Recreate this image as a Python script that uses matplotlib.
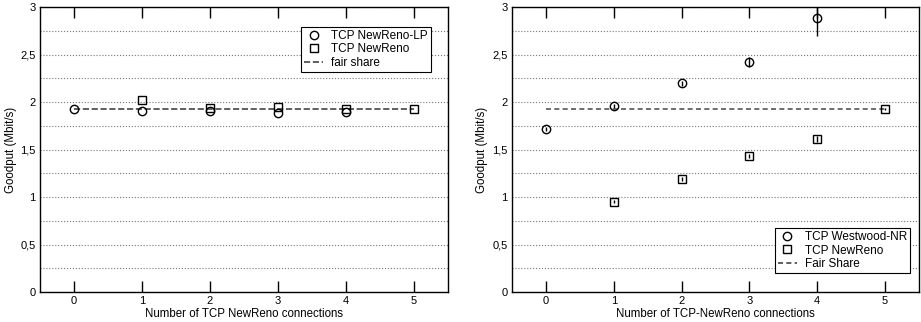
import matplotlib
matplotlib.use('Agg')
import matplotlib.pyplot as plt
from matplotlib.lines import Line2D
from matplotlib.ticker import MultipleLocator, FuncFormatter

plt.rcParams['font.family'] = ['Liberation Sans', 'DejaVu Sans']

# Left: NewReno-LP vs NewReno
lp_x = [0, 1, 2, 3, 4]
lp_y = [1.925, 1.905, 1.91, 1.887, 1.90]
nr1_x = [1, 2, 3, 4, 5]
nr1_y = [2.016, 1.94, 1.95, 1.93, 1.925]
fair1 = 1.93

# Right: Westwood-NR vs NewReno
ww_x = [0, 1, 2, 3, 4]
ww_y = [1.72, 1.96, 2.195, 2.42, 2.88]
ww_err = [0.02, 0.02, 0.03, 0.05, 0.18]
nr2_x = [1, 2, 3, 4, 5]
nr2_y = [0.952, 1.19, 1.435, 1.614, 1.93]
nr2_err = [0.02, 0.02, 0.02, 0.03, 0.01]
fair2 = 1.93


def comma(v, pos):
    return ('%g' % v).replace('.', ',')


def setup(ax, xlabel, ylab_x):
    ax.set_xlim(-0.5, 5.5)
    ax.set_ylim(0, 3)
    ax.xaxis.set_major_locator(MultipleLocator(1))
    ax.yaxis.set_major_locator(MultipleLocator(0.5))
    ax.yaxis.set_minor_locator(MultipleLocator(0.25))
    ax.yaxis.set_major_formatter(FuncFormatter(comma))
    ax.grid(True, axis='y', which='both', ls=':', color='#777777', lw=0.8)
    ax.tick_params(axis='x', direction='in', length=8, top=True, width=1, labelsize=8, pad=3)
    ax.tick_params(axis='y', which='both', length=0, labelsize=8, pad=3)
    ax.set_xlabel(xlabel, fontsize=8.3, labelpad=1)
    ax.set_ylabel('Goodput (Mbit/s)', fontsize=8.3)
    ax.yaxis.set_label_coords(ylab_x, 0.5)
    for s in ax.spines.values():
        s.set_linewidth(1)


def legend(ax, labels, dash, **kw):
    handles = [Line2D([], [], marker='o', **mk),
               Line2D([], [], marker='s', **mk),
               Line2D([], [], ls=dash, color='#444444', lw=1.2)]
    leg = ax.legend(handles, labels, fontsize=8.5, frameon=True, fancybox=False,
                    edgecolor='black', framealpha=1, handlelength=1.6, handletextpad=0.7,
                    labelspacing=0.12, borderpad=0.25, borderaxespad=0, **kw)
    leg.get_frame().set_linewidth(0.8)


fig = plt.figure(figsize=(9.21, 3.22), dpi=100)
ax1 = fig.add_axes([40 / 921, 30 / 322, 408 / 921, 285 / 322])
ax2 = fig.add_axes([512 / 921, 30 / 322, 407 / 921, 285 / 322])

mk = dict(ls='', mfc='none', mec='black', mew=1, ms=6)

ax1.plot([0, 5], [fair1, fair1], ls='--', color='#444444', lw=1.2, zorder=2)
ax1.plot(lp_x, lp_y, marker='o', **mk)
ax1.plot(nr1_x, nr1_y, marker='s', **mk)
legend(ax1, ['TCP NewReno-LP', 'TCP NewReno', 'fair share'], '--',
       loc='upper right', bbox_to_anchor=(1 - 17 / 408, 1 - 20 / 285))
setup(ax1, 'Number of TCP NewReno connections', -0.057)

ax2.plot([0, 5], [fair2, fair2], ls=(0, (3, 2)), color='#555555', lw=1.2, zorder=2)
ax2.errorbar(ww_x, ww_y, yerr=ww_err, marker='o', ecolor='black', elinewidth=1, capsize=0, **mk)
ax2.errorbar(nr2_x, nr2_y, yerr=nr2_err, marker='s', ecolor='black', elinewidth=1, capsize=0, **mk)
legend(ax2, ['TCP Westwood-NR', 'TCP NewReno', 'Fair Share'], (0, (3, 2)),
       loc='lower right', bbox_to_anchor=(1 - 9 / 407, 19 / 285))
setup(ax2, 'Number of TCP-NewReno connections', -0.059)

fig.savefig('out.png', dpi=100)
